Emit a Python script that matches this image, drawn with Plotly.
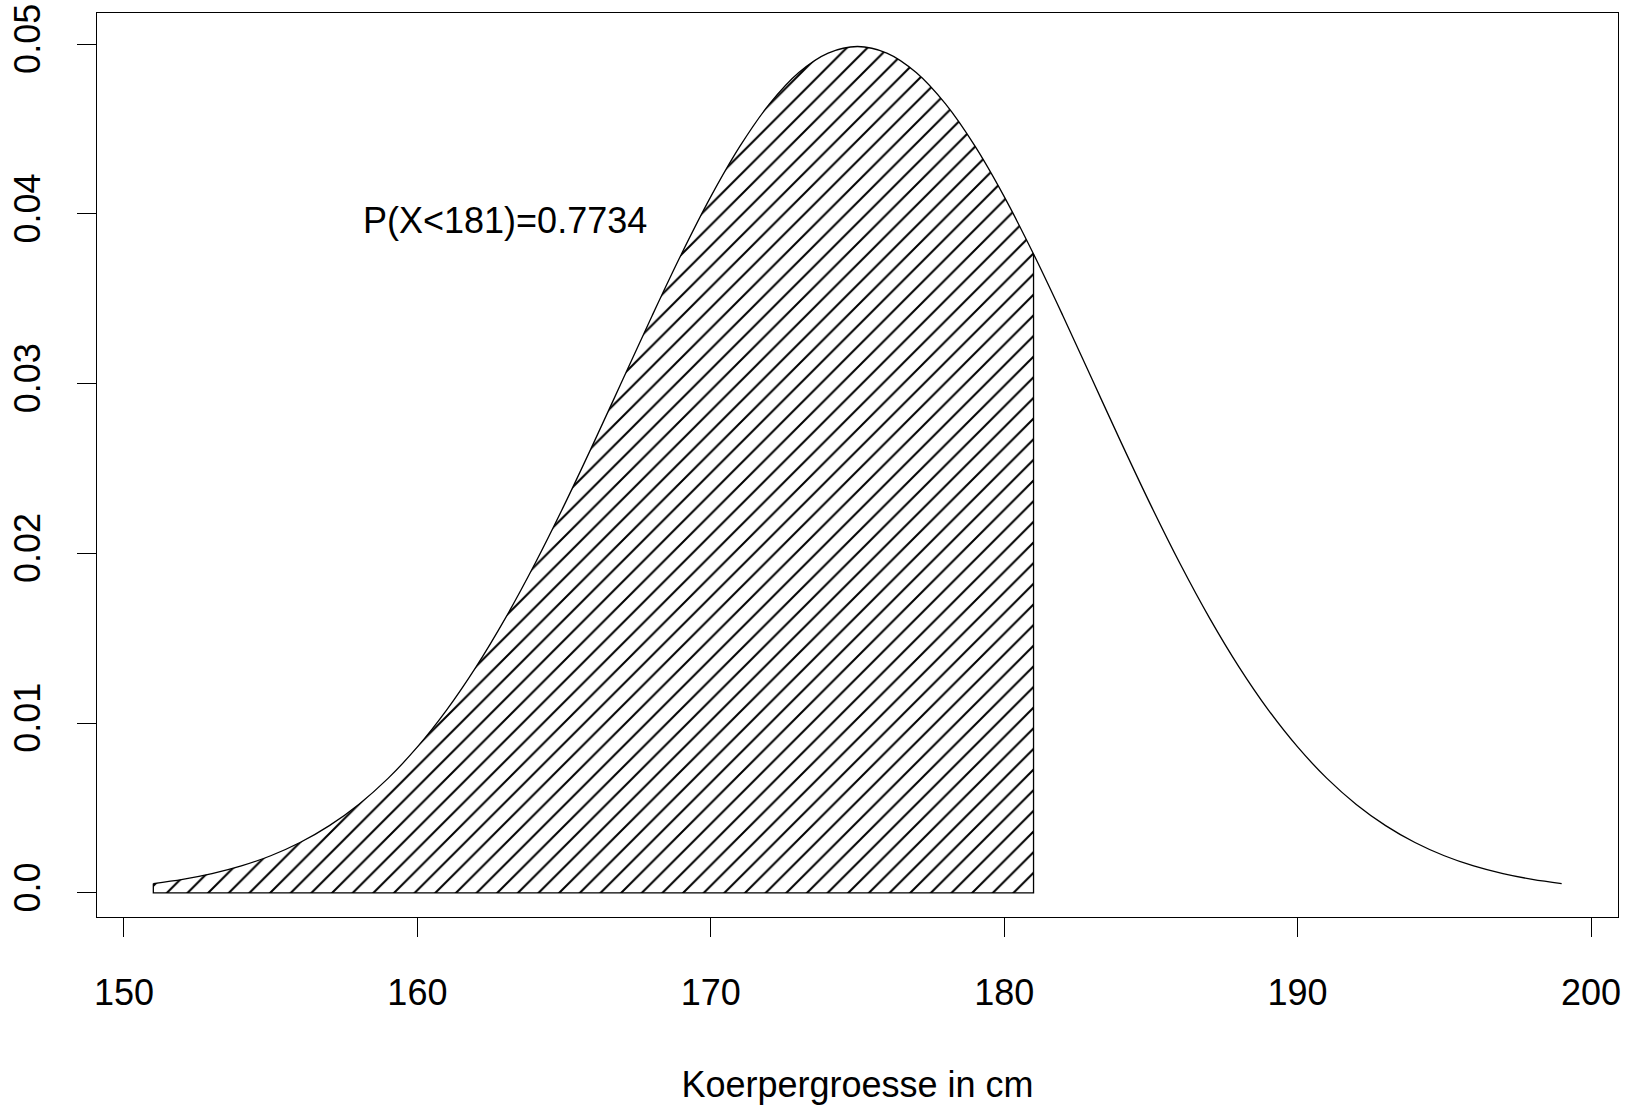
import plotly.graph_objects as go

# Body height (cm) and density values
height_cm = [151, 152, 153, 154, 155, 156, 157, 158, 159, 160,
             161, 162, 163, 164, 165, 166, 167, 168, 169, 170,
             171, 172, 173, 174, 175, 176, 177, 178, 179, 180,
             181, 182, 183, 184, 185, 186, 187, 188, 189, 190,
             191, 192, 193, 194, 195, 196, 197, 198, 199]
density = [0.000554, 0.000800, 0.001137, 0.001590, 0.002191, 0.002971, 0.003967, 0.005216, 0.006749, 0.008600,
           0.010785, 0.013317, 0.016190, 0.019376, 0.022831, 0.026485, 0.030246, 0.034007, 0.037642, 0.041020,
           0.044008, 0.046482, 0.048334, 0.049480, 0.049868, 0.049480, 0.048334, 0.046482, 0.044008, 0.041020,
           0.037642, 0.034007, 0.030246, 0.026485, 0.022831, 0.019376, 0.016190, 0.013317, 0.010785, 0.008600,
           0.006749, 0.005216, 0.003967, 0.002971, 0.002191, 0.001590, 0.001137, 0.000800, 0.000554]

cutoff = 181
prob_label = "P(X<181)=0.7734"
label_x = 163
label_y = 0.04

x_ticks = [150, 160, 170, 180, 190, 200]
y_ticks = [0.0, 0.01, 0.02, 0.03, 0.04, 0.05]
y_ticktext = ["0.0", "0.01", "0.02", "0.03", "0.04", "0.05"]
x_title = "Koerpergroesse in cm"

FONT = "Liberation Sans, Arial, sans-serif"
FS = 36
LW = 1.3

shade_x = [x for x in height_cm if x <= cutoff]
shade_y = [y for x, y in zip(height_cm, density) if x <= cutoff]

fig = go.Figure()

# hatched area
fig.add_trace(go.Scatter(
    x=shade_x, y=shade_y, mode="lines", line=dict(width=0, shape="spline", color="black"),
    fill="tozeroy", fillcolor="white",
    fillpattern=dict(shape="/", size=14.6, solidity=0.14, fgcolor="black",
                     fgopacity=1, bgcolor="white", fillmode="replace"),
    hoverinfo="skip", showlegend=False))

# polygon outline: left edge, bottom, right edge
fig.add_trace(go.Scatter(
    x=[shade_x[0], shade_x[0], shade_x[-1], shade_x[-1]],
    y=[shade_y[0], 0, 0, shade_y[-1]],
    mode="lines", line=dict(color="black", width=LW),
    hoverinfo="skip", showlegend=False))

# density curve
fig.add_trace(go.Scatter(
    x=height_cm, y=density, mode="lines",
    line=dict(color="black", width=LW, shape="spline"),
    showlegend=False))

fig.add_annotation(x=label_x, y=label_y, text=prob_label, showarrow=False,
                   xanchor="center", yanchor="middle", yshift=-7,
                   font=dict(family=FONT, size=FS, color="black"))

ymin, ymax = min(density), max(density)
pad_y = 0.04 * (ymax - ymin)
xmin, xmax = min(height_cm), max(height_cm)
pad_x = 0.04 * (xmax - xmin)

fig.update_layout(
    width=1630, height=1108,
    margin=dict(l=97, r=12, t=13, b=191, autoexpand=False),
    paper_bgcolor="white", plot_bgcolor="white",
    font=dict(family=FONT, size=FS, color="black"),
    xaxis=dict(range=[xmin - pad_x, xmax + pad_x], tickvals=x_ticks, automargin=False,
               showgrid=False, zeroline=False, showline=True, mirror=True,
               linecolor="black", linewidth=LW, ticks="outside", ticklen=19,
               tickwidth=LW, tickcolor="black", ticklabelstandoff=25,
               title=dict(text=x_title, standoff=59,
                          font=dict(family=FONT, size=FS, color="black")),
               tickfont=dict(family=FONT, size=FS, color="black")),
    yaxis=dict(range=[ymin - pad_y, ymax + pad_y], tickvals=y_ticks, ticktext=y_ticktext,
               automargin=False,
               showgrid=False, zeroline=False, showline=True, mirror=True,
               linecolor="black", linewidth=LW, ticks="outside", ticklen=19,
               tickwidth=LW, tickcolor="black", tickangle=-90, ticklabelstandoff=22,
               tickfont=dict(family=FONT, size=FS, color="black")),
)

fig.write_html("out.html")
